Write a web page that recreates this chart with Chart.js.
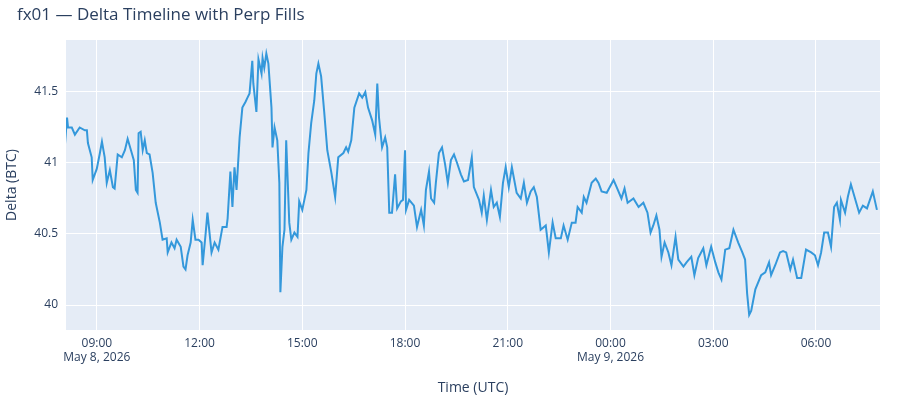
<!DOCTYPE html>
<html>
<head>
<meta charset="utf-8">
<script src="https://cdn.jsdelivr.net/npm/chart.js@4"></script>
<style>
  html, body { margin: 0; padding: 0; background: #fff; }
  #wrap { width: 900px; height: 400px; }
</style>
</head>
<body>
<div id="wrap"><canvas id="deltaChart"></canvas></div>
<script>
// hours since May 8, 2026 00:00 UTC
const hours = [
  8.07, 8.13, 8.16, 8.27, 8.36, 8.50, 8.65, 8.71, 8.74, 8.85, 8.88, 9.00, 9.09, 9.15, 9.23, 9.29,
  9.38, 9.47, 9.52, 9.61, 9.73, 9.82, 9.90, 10.02, 10.08, 10.14, 10.19, 10.22, 10.28, 10.34, 10.40,
  10.46, 10.54, 10.63, 10.72, 10.84, 10.92, 11.04, 11.07, 11.18, 11.27, 11.33, 11.45, 11.53, 11.59,
  11.65, 11.74, 11.80, 11.88, 11.97, 12.06, 12.09, 12.18, 12.23, 12.35, 12.44, 12.55, 12.67, 12.79,
  12.82, 12.90, 12.96, 13.02, 13.08, 13.17, 13.25, 13.34, 13.40, 13.46, 13.54, 13.57, 13.66, 13.72,
  13.81, 13.84, 13.89, 13.95, 14.01, 14.10, 14.13, 14.19, 14.27, 14.33, 14.36, 14.42, 14.48, 14.53,
  14.62, 14.68, 14.77, 14.86, 14.91, 15.00, 15.12, 15.18, 15.26, 15.35, 15.41, 15.47, 15.55, 15.64,
  15.73, 15.85, 15.96, 16.05, 16.20, 16.28, 16.34, 16.43, 16.52, 16.66, 16.75, 16.84, 16.92, 17.04,
  17.13, 17.19, 17.24, 17.33, 17.42, 17.48, 17.54, 17.62, 17.71, 17.77, 17.88, 17.94, 18.00, 18.03,
  18.12, 18.26, 18.35, 18.47, 18.55, 18.61, 18.70, 18.76, 18.85, 18.90, 18.99, 19.08, 19.17, 19.25,
  19.34, 19.43, 19.52, 19.63, 19.72, 19.84, 19.95, 20.01, 20.16, 20.24, 20.30, 20.39, 20.51, 20.59,
  20.68, 20.77, 20.86, 20.94, 21.03, 21.12, 21.26, 21.38, 21.47, 21.56, 21.67, 21.76, 21.85, 21.96,
  22.11, 22.20, 22.31, 22.40, 22.55, 22.63, 22.75, 22.87, 22.98, 23.04, 23.16, 23.22, 23.30, 23.45,
  23.57, 23.65, 23.74, 23.89, 24.09, 24.18, 24.32, 24.41, 24.50, 24.67, 24.82, 24.96, 25.08, 25.17,
  25.25, 25.34, 25.43, 25.49, 25.58, 25.69, 25.78, 25.90, 25.98, 26.13, 26.22, 26.36, 26.45, 26.56,
  26.71, 26.80, 26.94, 27.06, 27.15, 27.24, 27.35, 27.47, 27.59, 27.73, 27.85, 27.93, 27.99, 28.05,
  28.11, 28.23, 28.40, 28.52, 28.63, 28.69, 28.81, 28.95, 29.04, 29.13, 29.25, 29.33, 29.45, 29.57,
  29.71, 29.86, 29.97, 30.06, 30.15, 30.24, 30.35, 30.44, 30.53, 30.61, 30.70, 30.73, 30.85, 30.93,
  31.02, 31.14, 31.26, 31.37, 31.49, 31.66, 31.78
];
const delta = [
  41.13, 41.32, 41.25, 41.25, 41.20, 41.25, 41.23, 41.23, 41.14, 41.04, 40.88, 40.96, 41.07, 41.15, 41.04, 40.86,
  40.95, 40.83, 40.82, 41.06, 41.04, 41.09, 41.17, 41.07, 41.02, 40.81, 40.79, 41.21, 41.22, 41.09, 41.16,
  41.07, 41.06, 40.93, 40.72, 40.58, 40.46, 40.47, 40.37, 40.44, 40.40, 40.46, 40.41, 40.27, 40.25,
  40.35, 40.44, 40.60, 40.46, 40.46, 40.44, 40.28, 40.51, 40.65, 40.37, 40.44, 40.39, 40.55, 40.55,
  40.61, 40.94, 40.69, 40.97, 40.81, 41.18, 41.39, 41.43, 41.46, 41.49, 41.72, 41.56, 41.36, 41.73,
  41.63, 41.74, 41.67, 41.77, 41.70, 41.39, 41.11, 41.25, 41.16, 40.86, 40.09, 40.41, 40.53, 41.16,
  40.58, 40.46, 40.51, 40.48, 40.73, 40.67, 40.81, 41.07, 41.28, 41.44, 41.63, 41.70, 41.61, 41.36,
  41.09, 40.93, 40.76, 41.04, 41.07, 41.11, 41.08, 41.16, 41.39, 41.49, 41.46, 41.50, 41.39, 41.30,
  41.20, 41.56, 41.32, 41.11, 41.18, 41.11, 40.65, 40.65, 40.92, 40.68, 40.73, 40.74, 41.09, 40.67,
  40.74, 40.70, 40.55, 40.67, 40.56, 40.81, 40.94, 40.75, 40.72, 40.86, 41.07, 41.11, 40.99, 40.86,
  41.02, 41.06, 41.00, 40.92, 40.87, 40.88, 41.04, 40.83, 40.74, 40.65, 40.77, 40.60, 40.81, 40.69,
  40.72, 40.62, 40.86, 40.97, 40.83, 40.97, 40.79, 40.75, 40.86, 40.72, 40.80, 40.83, 40.76, 40.53,
  40.56, 40.37, 40.58, 40.47, 40.47, 40.56, 40.46, 40.58, 40.58, 40.69, 40.65, 40.76, 40.72, 40.86,
  40.89, 40.86, 40.80, 40.79, 40.88, 40.83, 40.75, 40.82, 40.72, 40.75, 40.69, 40.72, 40.65, 40.51,
  40.56, 40.63, 40.53, 40.34, 40.44, 40.37, 40.28, 40.48, 40.32, 40.27, 40.30, 40.34, 40.21, 40.33,
  40.40, 40.28, 40.41, 40.30, 40.23, 40.18, 40.39, 40.40, 40.53, 40.44, 40.37, 40.32, 40.08, 39.93,
  39.96, 40.11, 40.21, 40.23, 40.30, 40.21, 40.28, 40.37, 40.38, 40.37, 40.25, 40.32, 40.19, 40.19,
  40.39, 40.37, 40.35, 40.28, 40.37, 40.51, 40.51, 40.41, 40.69, 40.72, 40.60, 40.74, 40.65, 40.76,
  40.85, 40.75, 40.65, 40.70, 40.68, 40.80, 40.67
];

const xTicks = [9, 12, 15, 18, 21, 24, 27, 30];
const xTickLabels = ['09:00', '12:00', '15:00', '18:00', '21:00', '00:00', '03:00', '06:00'];
const dateLabels = { 9: 'May 8, 2026', 24: 'May 9, 2026' };
const yTicks = [40, 40.5, 41, 41.5];
const yTickLabels = ['40', '40.5', '41', '41.5'];

const INK = '#2a3f5f';

// plot background + title
const plotBg = {
  id: 'plotBg',
  beforeDraw(chart) {
    const { ctx, chartArea: a } = chart;
    ctx.save();
    ctx.fillStyle = '#e5ecf6';
    ctx.fillRect(a.left, a.top, a.right - a.left, a.bottom - a.top);
    ctx.restore();
  },
  afterDraw(chart) {
    const ctx = chart.ctx;
    ctx.save();
    ctx.fillStyle = INK;
    ctx.font = '17px "Open Sans", "Liberation Sans", sans-serif';
    ctx.textBaseline = 'middle';
    ctx.fillText('fx01 — Delta Timeline with Perp Fills', 17, 15);
    ctx.restore();
  }
};

const tickFont = { family: '"Open Sans", "Liberation Sans", sans-serif', size: 12 };

new Chart(document.getElementById('deltaChart'), {
  type: 'line',
  data: {
    datasets: [{
      data: hours.map((h, i) => ({ x: h, y: delta[i] })),
      borderColor: '#3498db',
      borderWidth: 2,
      pointRadius: 0,
      tension: 0,
      fill: false
    }]
  },
  options: {
    responsive: true,
    maintainAspectRatio: false,
    animation: false,
    layout: { padding: { top: 40, right: 20, left: 0, bottom: 0 } },
    plugins: { legend: { display: false }, tooltip: { enabled: false } },
    scales: {
      x: {
        type: 'linear',
        min: 8.10,
        max: 31.87,
        afterBuildTicks: s => { s.ticks = xTicks.map(v => ({ value: v })); },
        afterFit: s => { s.height = 70; },
        grid: { color: '#ffffff', lineWidth: 1, drawTicks: false },
        border: { display: false },
        ticks: {
          color: INK,
          font: tickFont,
          padding: 6,
          maxRotation: 0,
          autoSkip: false,
          callback: v => {
            const t = xTickLabels[xTicks.indexOf(v)];
            return dateLabels[v] ? [t, dateLabels[v]] : t;
          }
        },
        title: {
          display: true,
          text: 'Time (UTC)',
          color: INK,
          font: { family: tickFont.family, size: 14 },
          padding: { top: 4 }
        }
      },
      y: {
        min: 39.824,
        max: 41.866,
        afterBuildTicks: s => { s.ticks = yTicks.map(v => ({ value: v })); },
        afterFit: s => { s.width = 66; },
        grid: { color: '#ffffff', lineWidth: 1, drawTicks: false },
        border: { display: false },
        ticks: {
          color: INK,
          font: tickFont,
          padding: 8,
          callback: v => yTickLabels[yTicks.indexOf(v)]
        },
        title: {
          display: true,
          text: 'Delta (BTC)',
          color: INK,
          font: { family: tickFont.family, size: 14 },
          padding: { bottom: 0 }
        }
      }
    }
  },
  plugins: [plotBg]
});
</script>
</body>
</html>
